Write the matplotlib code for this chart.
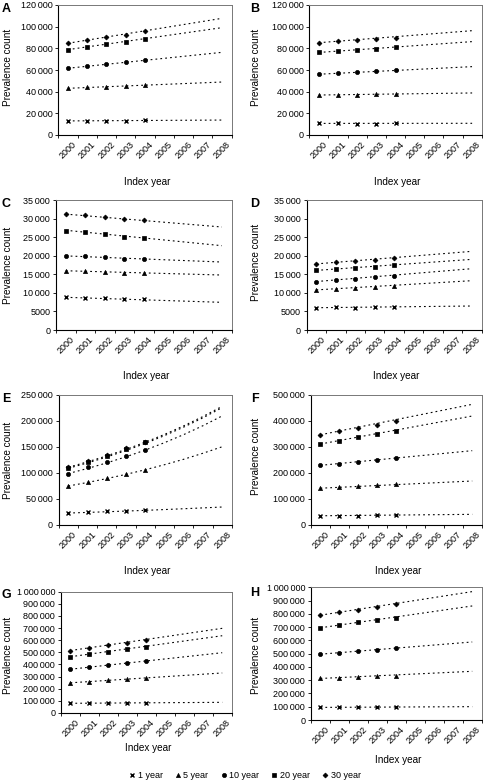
import matplotlib
matplotlib.use("Agg")
import matplotlib.pyplot as plt
from matplotlib.lines import Line2D
import numpy as np

plt.rcParams['font.family'] = ['Liberation Sans', 'DejaVu Sans']

# ---------------- data ----------------
years = ["2000", "2001", "2002", "2003", "2004", "2005", "2006", "2007", "2008"]
obs_years = ["2000", "2001", "2002", "2003", "2004"]
series_names = ["1 year", "5 year", "10 year", "20 year", "30 year"]

# observed prevalence counts (2000-2004), per panel, per series
A_obs = [[13200, 13100, 13100, 13300, 13500],
         [43100, 44000, 44600, 45500, 46200],
         [61500, 63700, 65500, 67400, 69200],
         [78800, 81200, 83700, 86200, 88600],
         [84900, 87400, 90200, 92600, 95700]]
B_obs = [[10800, 10800, 10500, 10500, 10800],
         [36900, 37200, 37200, 37500, 37500],
         [56000, 57200, 58500, 59400, 60000],
         [76300, 77500, 78500, 79400, 81200],
         [85200, 86500, 87700, 88600, 89800]]
C_obs = [[8790, 8700, 8530, 8260, 8350],
         [15880, 15880, 15700, 15350, 15350],
         [19920, 19830, 19560, 19110, 19110],
         [26740, 26380, 25760, 25040, 24680],
         [31140, 30960, 30420, 29790, 29520]]
D_obs = [[6010, 6100, 6010, 6190, 6190],
         [10770, 11130, 11400, 11670, 11940],
         [13010, 13550, 13820, 14180, 14630],
         [16150, 16420, 16690, 17050, 17590],
         [17770, 18300, 18580, 18940, 19380]]
E_obs = [[22400, 25600, 26900, 26900, 29500],
         [75000, 82700, 91000, 97400, 105800],
         [98700, 110900, 121800, 132700, 143600],
         [109600, 120500, 132700, 146100, 159000],
         [111500, 122500, 134500, 147500, 160500]]
F_obs = [[35900, 35900, 35900, 38500, 38500],
         [141000, 146200, 148700, 152600, 156400],
         [230800, 235900, 241000, 248700, 257700],
         [311500, 324400, 337200, 350000, 362800],
         [347400, 360300, 373100, 385900, 400000]]
G_obs = [[80000, 82000, 82000, 83000, 84000],
         [250000, 258000, 268000, 278000, 286000],
         [362000, 378000, 396000, 412000, 428000],
         [465000, 484000, 505000, 527000, 548000],
         [515000, 537000, 560000, 580000, 600000]]
H_obs = [[95500, 95500, 95500, 98000, 98000],
         [314100, 319200, 324200, 331700, 334200],
         [497600, 507600, 517700, 530200, 542800],
         [693600, 716200, 736300, 753900, 771500],
         [789000, 811700, 831800, 854400, 874500]]

# linear trend lines: value at 2000 and at 2008
trend_years = ["2000", "2008"]
A_trend = [[13000, 13800], [43100, 48900], [61600, 76300], [78800, 99100], [84700, 107700]]
B_trend = [[10700, 10800], [36900, 38800], [56100, 63100], [76200, 86200], [85200, 96300]]
C_trend = [[8800, 7450], [15950, 14800], [19950, 18300], [26850, 22700], [31200, 27730]]
D_trend = [[6000, 6460], [10800, 13280], [13050, 16510], [16050, 19020], [17800, 21180]]
F_trend = [[35500, 41000], [141500, 169200], [229500, 285900], [311500, 419200], [347000, 464100]]
G_trend = [[80000, 88000], [249000, 330000], [361000, 497000], [464000, 637000], [515000, 698000]]
H_trend = [[95000, 100500], [313000, 366900], [496000, 588000], [695000, 859400], [790000, 967500]]
# curved trend lines in panel E: value at each year 2000-2008
E_trend = [[23000, 24200, 25500, 26800, 28200, 29700, 31300, 32900, 34600],
           [75000, 81800, 89300, 97400, 106300, 116000, 126500, 138100, 150600],
           [99000, 108700, 119500, 131200, 144200, 158400, 174000, 191100, 210000],
           [109000, 119400, 130800, 143300, 157000, 172000, 188400, 206300, 226000],
           [111000, 121500, 133000, 145500, 159300, 174300, 190800, 208800, 228500]]

panel_letters = ["A", "B", "C", "D", "E", "F", "G", "H"]
y_max = [120000, 120000, 35000, 35000, 250000, 500000, 1000000, 1000000]
y_step = [20000, 20000, 5000, 5000, 50000, 100000, 100000, 100000]

# ---------------- layout (pixels) ----------------
W, H = 483, 782
fig = plt.figure(figsize=(W / 100, H / 100), dpi=100)

# left, top, right, bottom in pixels
boxes = [(58.3, 5, 231.7, 135), (309.3, 5, 481.7, 135),
         (56, 200, 231.7, 330), (306.7, 200, 481.7, 330),
         (58.7, 395, 232, 525), (311, 395, 481.7, 525),
         (61, 591.7, 231.7, 713), (311, 587.3, 481.7, 720)]
ylab_pos = [(8.3, 67), (256, 67), (8.3, 265), (256, 262), (8.3, 460), (256, 456),
            (8.3, 655), (256, 655)]
xlab_y = [181.7, 181.7, 376, 376, 571, 571, 748.3, 760]
letter_pos = [(6, 9), (255, 9), (6, 204), (255, 204), (6, 399), (255, 399), (6, 595), (255, 593)]

markers = ['x', '^', 'o', 's', 'D']
msizes = [2.8, 3.0, 3.0, 3.0, 2.5]

obs_all = [A_obs, B_obs, C_obs, D_obs, E_obs, F_obs, G_obs, H_obs]
trend_all = [A_trend, B_trend, C_trend, D_trend, E_trend, F_trend, G_trend, H_trend]


def fx(px):
    return px / W


def fy(py):
    return 1 - py / H


def fmt(v):
    v = int(round(v))
    if v >= 10000:
        return f"{v:,}".replace(",", "\u2009")
    return str(v)


xpos = {y: i for i, y in enumerate(years)}

for k in range(8):
    l, t, r, b = boxes[k]
    ax = fig.add_axes([fx(l), fy(b), (r - l) / W, (b - t) / H])
    obs = obs_all[k]
    tr = trend_all[k]
    for s in range(5):
        xo = [xpos[y] for y in obs_years]
        if k == 4:
            xt = [xpos[y] for y in years]
        else:
            xt = [xpos[y] for y in trend_years]
        ax.plot(xt, tr[s], color='black', lw=0.8, linestyle=(0, (1.6, 2.8)), zorder=2)
        ax.plot(xo, obs[s], linestyle='none', marker=markers[s], ms=msizes[s],
                color='black', mec='black', mew=1.0 if markers[s] == 'x' else 0.5, zorder=3)
    ax.set_xlim(-0.5, len(years) - 0.5)
    ax.set_ylim(0, y_max[k])
    yt = np.arange(0, y_max[k] + 1, y_step[k])
    ax.set_yticks(yt)
    ax.set_yticklabels([fmt(v) for v in yt])
    ax.set_xticks(range(len(years)))
    ax.set_xticklabels(years, rotation=45)
    ax.set_xticks(np.arange(-0.5, len(years), 1.0), minor=True)
    ax.tick_params(axis='x', which='major', length=0, pad=3.5, labelsize=6.5)
    ax.tick_params(axis='x', which='minor', length=2.2, width=0.6, direction='out')
    ax.tick_params(axis='y', length=2.2, width=0.6, pad=2, labelsize=6.5)
    for side in ['top', 'right']:
        ax.spines[side].set_color('#777777')
        ax.spines[side].set_linewidth(0.7)
    for side in ['left', 'bottom']:
        ax.spines[side].set_color('black')
        ax.spines[side].set_linewidth(0.8)

    fig.text(fx(ylab_pos[k][0]), fy(ylab_pos[k][1]), "Prevalence count", rotation=90,
             ha='center', va='center', fontsize=7.2)
    fig.text(fx((l + r) / 2 + 2), fy(xlab_y[k]), "Index year", ha='center', va='center',
             fontsize=7.2)
    fig.text(fx(letter_pos[k][0]), fy(letter_pos[k][1]), panel_letters[k], ha='center',
             va='center', fontsize=9, fontweight='bold')

handles = [Line2D([], [], linestyle='none', marker=markers[s], ms=msizes[s], color='black',
                  mew=1.0 if markers[s] == 'x' else 0.5) for s in range(5)]
fig.legend(handles, series_names, loc='center', bbox_to_anchor=(fx(245), fy(776)), ncol=5,
           frameon=False, fontsize=6.5, handlelength=0.6, handletextpad=0.3,
           columnspacing=1.4, borderpad=0)

fig.savefig("out.png", dpi=100)
